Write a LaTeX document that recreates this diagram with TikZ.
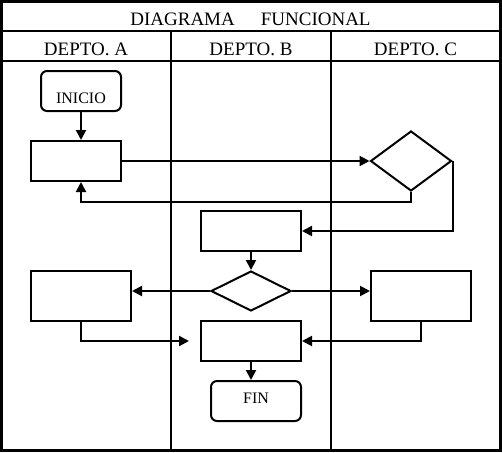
\documentclass[tikz,border=0pt]{standalone}
\usepackage{fontspec}
\setmainfont{Liberation Serif}
\usetikzlibrary{shapes.geometric}
\usetikzlibrary{arrows.meta}

\begin{document}
\begin{tikzpicture}[x=1pt,y=-1pt,line width=2pt,>={Triangle[length=10pt,width=10pt]},
  proc/.style={rectangle,draw,minimum width=100pt,minimum height=40pt,inner sep=0pt},
  term/.style={rectangle,draw,rounded corners=6pt,minimum width=90pt,minimum height=40pt,
  inner sep=0pt,font=\fontsize{16}{16}\selectfont},
  deci/.style={diamond,draw,inner sep=0pt},
  head/.style={anchor=base,font=\fontsize{19}{19}\selectfont}]
  \useasboundingbox (0,0) rectangle (502,452);
  % marco y carriles
  \draw[line width=2.6pt] (1.5,1.5) rectangle (500.5,450.5);
  \draw (1.5,31) -- (500.5,31);
  \draw (1.5,61) -- (500.5,61);
  \draw (171,31) -- (171,450.5);
  \draw (331,31) -- (331,450.5);
  \node[head] (tit) at (250.5,26) {DIAGRAMA\hspace{26pt}FUNCIONAL};
  \node[head] (hA) at (86,56) {DEPTO. A};
  \node[head] (hB) at (251,56) {DEPTO. B};
  \node[head] (hC) at (415.5,56) {DEPTO. C};

  % pasos
  \node[term,minimum width=80pt] (ini) at (81,91) {\raisebox{-12pt}[0pt][0pt]{INICIO}};
  \node[proc,minimum width=90pt] (a1) at (76,161) {};
  \node[deci,minimum width=81pt,minimum height=60pt] (c1) at (411,161) {};
  \node[proc] (b1) at (251,231) {};
  \node[deci,minimum width=80pt,minimum height=40pt] (b2) at (251,291) {};
  \node[proc,minimum height=50pt] (a2) at (81,296) {};
  \node[proc,minimum height=50pt] (c2) at (421,296) {};
  \node[proc] (b3) at (251,341) {};
  \node[term] (fin) at (256,401) {\raisebox{-2pt}[0pt][0pt]{FIN}};

  % flechas
  \draw[->] (ini.south) -- (ini.south |- a1.north);
  \draw[->] (a1.east) -- (c1.west);
  \draw[->] (c1.south) -- ++(0,10) -| (ini.south |- a1.south);
  \draw[->] (c1.east) |- (b1.east);
  \draw[->] (b1) -- (b2);
  \draw[->] (b2.west) -- (b2.west -| a2.east);
  \draw[->] (b2.east) -- (b2.east -| c2.west);
  \draw[->,shorten >=11pt] (a2.south) |- (b3.west);
  \draw[->] (c2.south) |- (b3.east);
  \draw[->] (b3.south) -- (b3.south |- fin.north);
\end{tikzpicture}
\end{document}
